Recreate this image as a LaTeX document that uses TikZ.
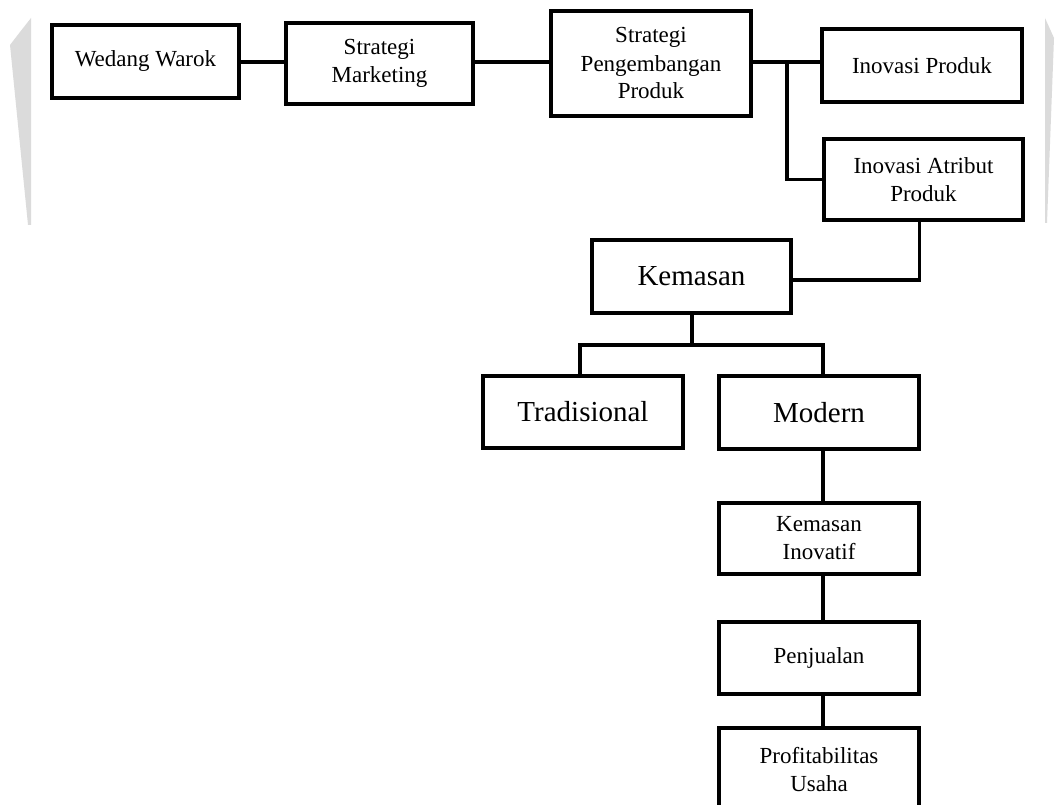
\documentclass[tikz,border=0pt]{standalone}
\usepackage{fontspec}
\setmainfont{Liberation Serif}
\begin{document}
\begin{tikzpicture}[x=1pt,y=-1pt,
  box/.style={draw=black, line width=3.4pt, fill=white, inner sep=0pt, align=center,
    font=\fontsize{23}{28}\selectfont, minimum width=200pt},
  bigbox/.style={box, font=\fontsize{29}{34}\selectfont},
  conn/.style={draw=black, line width=3.4pt}]
\useasboundingbox (0,0) rectangle (1060,805);
\clip (0,0) rectangle (1060,805);
% faint background marks
\fill[gray!28] (31,18) -- (31,225) -- (28,225) -- (10,45) -- (20,32) -- cycle;
\fill[gray!28] (1045,18) -- (1054,38) -- (1047,223) -- (1045,223) -- cycle;

% nodes
\node[box, minimum width=187pt, minimum height=73pt] (ww) at (145.5,61.5) {Wedang Warok};
\node[box, minimum width=187pt, minimum height=81pt] (sm) at (379.5,63.5) {Strategi\\Marketing};
\node[box, minimum height=105pt] (spp) at (651,63.5) {Strategi\\Pengembangan\\Produk};
\node[box, minimum height=73pt] (ip) at (922,65.5) {Inovasi Produk};
\node[box, minimum width=199pt, minimum height=81pt] (iap) at (923.5,179.5) {Inovasi Atribut\\Produk};
\node[bigbox, minimum width=199pt, minimum height=73pt] (kem) at (691.5,276.5) {Kemasan};
\node[bigbox, minimum height=72pt] (trad) at (583,412) {Tradisional};
\node[bigbox, minimum height=73pt] (mod) at (819,412.5) {Modern};
\node[box, minimum height=71pt] (ki) at (819,538.5) {Kemasan\\Inovatif};
\node[box, minimum height=72pt] (pen) at (819,658) {Penjualan};
\node[box, minimum height=84pt] (prof) at (819,770) {Profitabilitas\\Usaha};

% connectors
\coordinate (jA) at (787,62);
\coordinate (jK) at (692,345);
\coordinate (jT) at (580,345);
\coordinate (jM) at (823,345);
\draw[conn] (ww.east |- 0,62) -- (sm.west |- 0,62);
\draw[conn] (sm.east |- 0,62) -- (spp.west |- 0,62);
\draw[conn] (spp.east |- 0,62) -- (ip.west |- 0,62);
\draw[conn] (jA) |- (iap.west);
\draw[conn] ([xshift=-4pt]iap.south) |- (kem.east |- 0,280);
\draw[conn] (kem.south -| jK) -- (jK);
\draw[conn] (trad.north -| jT) -- (jT) -- (jM) -- (mod.north -| jM);
\draw[conn] (mod.south -| jM) -- (ki.north -| jM);
\draw[conn] (ki.south -| jM) -- (pen.north -| jM);
\draw[conn] (pen.south -| jM) -- (prof.north -| jM);
\end{tikzpicture}
\end{document}
